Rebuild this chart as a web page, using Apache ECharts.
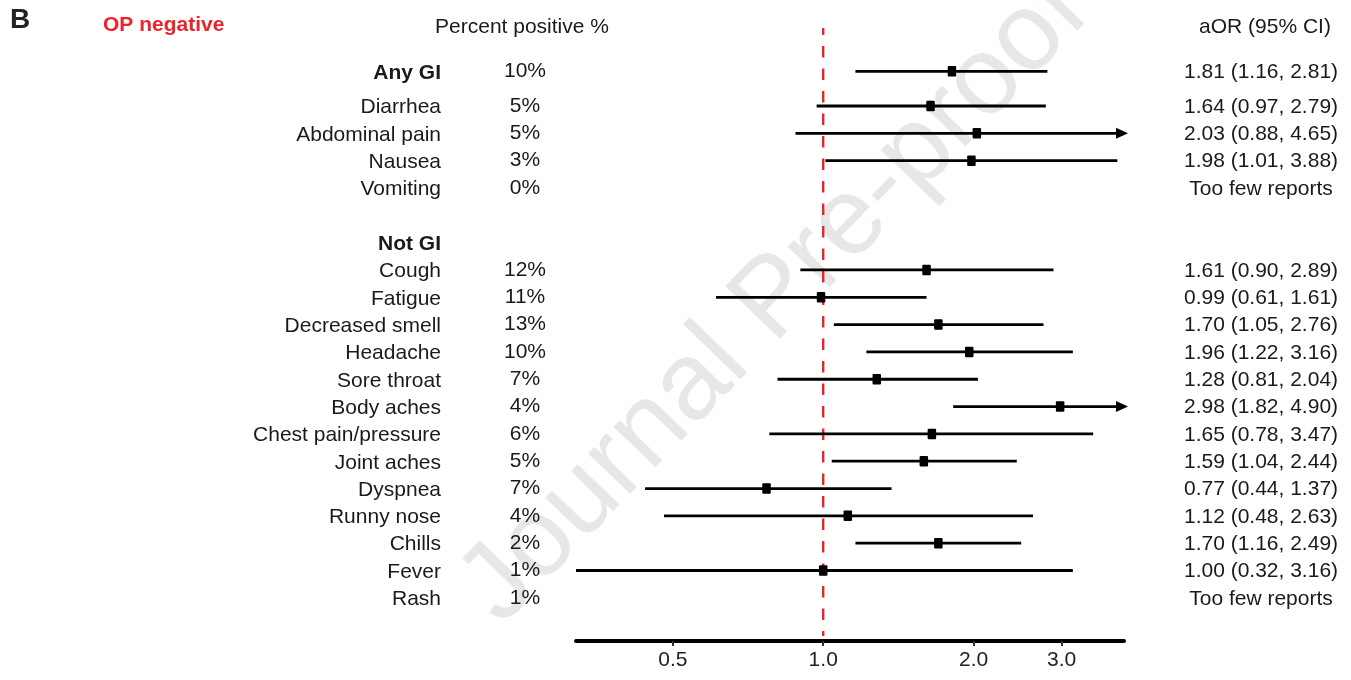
<!DOCTYPE html>
<html>
<head>
<meta charset="utf-8">
<title>OP negative – symptoms forest plot</title>
<script src="https://cdn.jsdelivr.net/npm/echarts@6/dist/echarts.min.js"></script>
<style>
  html, body { margin: 0; padding: 0; background: #fff; }
  #chart { width: 1351px; height: 680px; }
</style>
</head>
<body>
<div id="chart"></div>
<script>
// Symptom rows, top to bottom
const symptoms = ['Any GI', 'Diarrhea', 'Abdominal pain', 'Nausea', 'Vomiting',
  'Not GI', 'Cough', 'Fatigue', 'Decreased smell', 'Headache', 'Sore throat',
  'Body aches', 'Chest pain/pressure', 'Joint aches', 'Dyspnea', 'Runny nose',
  'Chills', 'Fever', 'Rash'];
const headerRows = ['Any GI', 'Not GI'];
const percentPositive = ['10%', '5%', '5%', '3%', '0%',
  '', '12%', '11%', '13%', '10%', '7%',
  '4%', '6%', '5%', '7%', '4%',
  '2%', '1%', '1%'];
// Adjusted odds ratios with 95% confidence limits (null = too few reports / no estimate)
const aor    = [1.81, 1.64, 2.03, 1.98, null, null, 1.61, 0.99, 1.70, 1.96, 1.28, 2.98, 1.65, 1.59, 0.77, 1.12, 1.70, 1.00, null];
const ciLow  = [1.16, 0.97, 0.88, 1.01, null, null, 0.90, 0.61, 1.05, 1.22, 0.81, 1.82, 0.78, 1.04, 0.44, 0.48, 1.16, 0.32, null];
const ciHigh = [2.81, 2.79, 4.65, 3.88, null, null, 2.89, 1.61, 2.76, 3.16, 2.04, 4.90, 3.47, 2.44, 1.37, 2.63, 2.49, 3.16, null];
const tooFewRows = ['Vomiting', 'Rash'];
const xTicks = [0.5, 1.0, 2.0, 3.0];

// Axis range of the plot (values outside get an arrow)
const X_MIN = 0.32, X_MAX = 4.0;
const NULL_VALUE = 1.0;

const FONT = '"Liberation Sans", Arial, Helvetica, sans-serif';
const FONT_SIZE = 21;
const TEXT_COLOR = '#1a1a1a';
const RED = '#ec2329';

// Vertical slot of each row: a little extra room after the first header,
// and an empty slot before the "Not GI" group.
function rowPos(i) {
  return i + (i >= 1 ? 0.27 : 0) + (i >= 5 ? 1 : 0);
}

const ciData = [];
const textData = [];
symptoms.forEach((name, i) => {
  textData.push([NULL_VALUE, rowPos(i), i]);
  if (aor[i] != null) ciData.push([aor[i], rowPos(i), ciLow[i], ciHigh[i]]);
});

function aorText(i) {
  if (tooFewRows.includes(symptoms[i])) return 'Too few reports';
  if (aor[i] == null) return '';
  return aor[i].toFixed(2) + ' (' + ciLow[i].toFixed(2) + ', ' + ciHigh[i].toFixed(2) + ')';
}

function renderCI(params, api) {
  const mid = api.value(0), y = api.value(1), lo = api.value(2), hi = api.value(3);
  const overflow = hi > X_MAX;
  const p0 = api.coord([Math.max(lo, X_MIN), y]);
  const p1 = api.coord([Math.min(hi, X_MAX), y]);
  const pm = api.coord([mid, y]);
  const children = [{
    type: 'line',
    shape: { x1: p0[0], y1: p0[1], x2: overflow ? p1[0] - 6 : p1[0], y2: p1[1] },
    style: { stroke: '#000', lineWidth: 2.8 }
  }];
  if (overflow) {
    children.push({
      type: 'polygon',
      shape: { points: [[p1[0] + 4, p1[1]], [p1[0] - 8, p1[1] - 5.5], [p1[0] - 8, p1[1] + 5.5]] },
      style: { fill: '#000' }
    });
  }
  children.push({
    type: 'rect',
    shape: { x: pm[0] - 4.25, y: pm[1] - 5.25, width: 8.5, height: 10.5, r: 1 },
    style: { fill: '#000' }
  });
  return { type: 'group', children };
}

function renderText(params, api) {
  const i = api.value(2);
  const y = api.coord([NULL_VALUE, api.value(1)])[1];
  const isHeader = headerRows.includes(symptoms[i]);
  const base = { fontFamily: FONT, fontSize: FONT_SIZE, fill: TEXT_COLOR, verticalAlign: 'middle' };
  return {
    type: 'group',
    children: [
      { type: 'text', x: 441, y: y + 1.5,
        style: Object.assign({}, base, { text: symptoms[i], align: 'right', fontWeight: isHeader ? 'bold' : 'normal' }) },
      { type: 'text', x: 525, y: y,
        style: Object.assign({}, base, { text: percentPositive[i], align: 'center' }) },
      { type: 'text', x: 1261, y: y + 1,
        style: Object.assign({}, base, { text: aorText(i), align: 'center' }) }
    ]
  };
}

// Dashed reference line at OR = 1
function renderNullLine(params, api) {
  const x = api.coord([NULL_VALUE, 0])[0];
  return {
    type: 'line',
    shape: { x1: x, y1: 28, x2: x, y2: 636 },
    style: { stroke: RED, lineWidth: 2.4, lineDash: [11.5, 11], lineDashOffset: 4.5 }
  };
}

const chart = echarts.init(document.getElementById('chart'), null, { renderer: 'canvas' });
chart.setOption({
  animation: false,
  backgroundColor: '#fff',
  grid: { left: 576, right: 227, top: 44, bottom: 39 },
  xAxis: {
    type: 'log',
    logBase: 2,
    min: X_MIN,
    max: X_MAX,
    splitLine: { show: false },
    axisLine: { show: true, onZero: false, lineStyle: { color: '#000', width: 4 } },
    axisTick: { show: true, length: 5, customValues: xTicks, lineStyle: { color: '#333', width: 2 } },
    axisLabel: {
      customValues: xTicks,
      formatter: v => Number(v).toFixed(1),
      fontFamily: FONT, fontSize: FONT_SIZE, color: '#222', margin: 9
    }
  },
  yAxis: {
    type: 'value', inverse: true, min: -1, max: 20.85, show: false
  },
  graphic: [
    { type: 'text', z: -10, silent: true,
      x: 775, y: 300, rotation: 46 * Math.PI / 180,
      style: { text: 'Journal Pre-proof', font: '110px ' + FONT, fill: '#e7e7e7', align: 'center', verticalAlign: 'middle' } },
    { type: 'text', x: 10, y: 20, z: 10,
      style: { text: 'B', font: 'bold 28px ' + FONT, fill: '#222', verticalAlign: 'middle' } },
    { type: 'text', x: 103, y: 25, z: 10,
      style: { text: 'OP negative', font: 'bold ' + FONT_SIZE + 'px ' + FONT, fill: RED, verticalAlign: 'middle' } },
    { type: 'text', x: 522, y: 27, z: 10,
      style: { text: 'Percent positive %', font: FONT_SIZE + 'px ' + FONT, fill: TEXT_COLOR, align: 'center', verticalAlign: 'middle' } },
    { type: 'text', x: 1265, y: 27, z: 10,
      style: { text: 'aOR (95% CI)', font: FONT_SIZE + 'px ' + FONT, fill: TEXT_COLOR, align: 'center', verticalAlign: 'middle' } }
  ],
  series: [
    { type: 'custom', name: 'null line', data: [[NULL_VALUE, 0]], renderItem: renderNullLine, clip: false, z: 3, silent: true },
    { type: 'custom', name: 'aOR', data: ciData, renderItem: renderCI, clip: false, z: 4,
      encode: { x: 0, y: 1 } },
    { type: 'custom', name: 'labels', data: textData, renderItem: renderText, clip: false, z: 5,
      encode: { x: 0, y: 1 }, silent: true }
  ]
});
</script>
</body>
</html>
